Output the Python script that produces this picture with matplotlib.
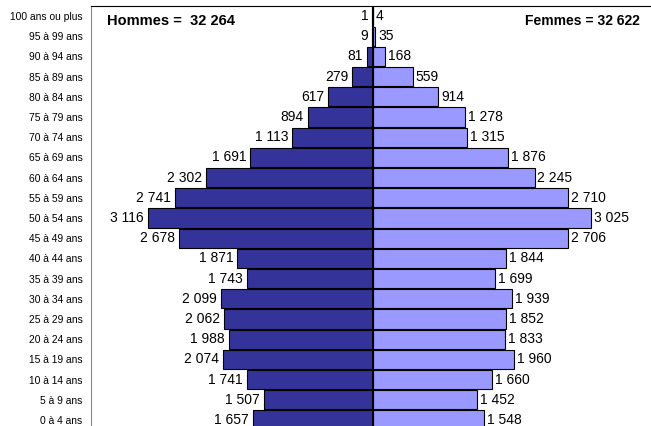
import matplotlib.pyplot as plt

plt.rcParams['font.family'] = ['Liberation Sans', 'DejaVu Sans']

ages = ["0 à 4 ans", "5 à 9 ans", "10 à 14 ans", "15 à 19 ans", "20 à 24 ans",
        "25 à 29 ans", "30 à 34 ans", "35 à 39 ans", "40 à 44 ans", "45 à 49 ans",
        "50 à 54 ans", "55 à 59 ans", "60 à 64 ans", "65 à 69 ans", "70 à 74 ans",
        "75 à 79 ans", "80 à 84 ans", "85 à 89 ans", "90 à 94 ans", "95 à 99 ans",
        "100 ans ou plus"]
hommes = [1657, 1507, 1741, 2074, 1988, 2062, 2099, 1743, 1871, 2678,
          3116, 2741, 2302, 1691, 1113, 894, 617, 279, 81, 9, 1]
femmes = [1548, 1452, 1660, 1960, 1833, 1852, 1939, 1699, 1844, 2706,
          3025, 2710, 2245, 1876, 1315, 1278, 914, 559, 168, 35, 4]
total_h = "32 264"
total_f = "32 622"


def fmt(v):
    return "{:,}".format(v).replace(",", " ")


W, H = 651, 426
fig = plt.figure(figsize=(W / 100, H / 100), dpi=100)
ax = fig.add_axes([91 / W, -4 / H, (660 - 91) / W, (430 - 6) / H])

y = list(range(len(ages)))
ax.barh(y, [-v for v in hommes], height=0.95, color="#333399",
        edgecolor="black", linewidth=0.8)
ax.barh(y, femmes, height=0.95, color="#9999FF",
        edgecolor="black", linewidth=0.8)
ax.axvline(0, color="black", lw=1.5)

for i in y:
    ax.text(-hommes[i] - 55, i, fmt(hommes[i]), ha="right", va="center", fontsize=10)
    ax.text(femmes[i] + 40, i, fmt(femmes[i]), ha="left", va="center", fontsize=10)

ax.set_xlim(-3899, 3982)
ax.set_ylim(-0.5, len(ages) - 0.5)
ax.set_yticks(y)
ax.set_yticklabels(ages, fontsize=7.4)
ax.tick_params(axis="y", length=0, pad=6)
ax.set_xticks([])
for s in ["right", "bottom"]:
    ax.spines[s].set_visible(False)
ax.spines["left"].set_color("#888888")
ax.spines["top"].set_color("black")

fig.text(107 / W, 1 - 21 / H, "Hommes =  " + total_h, fontsize=10.5,
         fontweight="bold", ha="left", va="center")
fig.text(640 / W, 1 - 21 / H, "Femmes = " + total_f, fontsize=10,
         fontweight="bold", ha="right", va="center")

fig.savefig("out.png", dpi=100)
